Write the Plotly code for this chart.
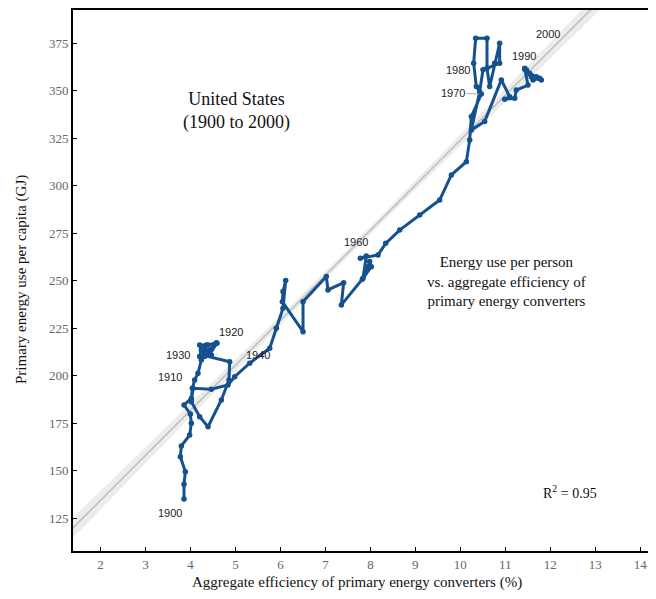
import numpy as np
import plotly.graph_objects as go

years = list(range(1900, 2001))

# aggregate efficiency (%) per year
efficiency = [
    3.858, 3.858, 3.888, 3.777, 3.799, 3.984, 4.021, 3.999, 3.858, 4.021,   # 1900s
    4.044, 4.095, 4.169, 4.243, 4.206, 4.243, 4.206, 4.392, 4.577, 4.392,   # 1910s
    4.592, 4.429, 4.317, 4.354, 4.280, 4.429, 4.317, 4.466, 4.354, 4.466,   # 1920s
    4.243, 4.873, 4.858, 4.688, 4.392, 4.206, 4.021, 4.058, 4.466, 4.836,   # 1930s
    4.984, 5.317, 5.762, 5.910, 6.058, 6.118, 6.058, 6.043, 6.503, 6.503,   # 1940s
    7.021, 7.058, 7.406, 7.355, 7.821, 7.947, 7.984, 8.021, 7.836, 7.910,   # 1950s
    7.777, 8.170, 8.340, 8.651, 9.096, 9.540, 9.800, 10.133, 10.207, 10.244,  # 1960s
    10.466, 10.355, 10.295, 10.340, 10.592, 10.592, 10.651, 10.762, 10.873, 10.873,  # 1970s
    10.503, 10.429, 10.244, 10.540, 10.910, 11.095, 10.984, 11.207, 11.244, 11.503,  # 1980s
    11.429, 11.614, 11.799, 11.688, 11.540, 11.466, 11.614, 11.762, 11.577, 11.503,  # 1990s
    11.429,
]

# primary energy use per capita (GJ)
energy = [
    135.2, 142.9, 149.5, 157.4, 163.1, 168.8, 175.0, 179.9, 184.6, 188.1,
    193.4, 197.8, 201.3, 208.3, 210.1, 213.6, 216.2, 216.2, 217.4, 212.7,
    217.1, 211.8, 214.5, 216.2, 211.8, 213.6, 210.1, 211.0, 212.7, 213.9,
    211.0, 207.4, 197.8, 187.3, 173.2, 178.5, 186.4, 193.4, 192.9, 195.2,
    199.5, 206.6, 214.5, 225.0, 235.5, 250.1, 244.3, 239.0, 223.2, 239.0,
    252.2, 245.2, 249.0, 237.3, 250.8, 257.4, 260.1, 257.4, 251.3, 263.1,
    261.8, 263.6, 269.7, 276.7, 284.6, 292.5, 305.7, 312.7, 324.1, 336.4,
    348.3, 352.2, 364.5, 377.6, 377.6, 361.8, 352.2, 364.5, 375.0, 364.5,
    361.0, 349.5, 329.4, 333.8, 355.7, 346.9, 345.5, 346.0, 350.4, 353.0,
    361.8, 356.6, 355.7, 357.4, 359.2, 361.0, 355.7, 356.6, 357.4, 359.5,
    361.3,
]

# fitted line and its confidence band, as drawn in the chart
fit_intercept = 87.0
fit_slope = 23.7
band_center_x = 7.5
band_min_half = 2.0
band_spread = 0.8

label_years = [1900, 1910, 1920, 1930, 1940, 1960, 1970, 1980, 1990, 2000]
label_dx = [-14, -22, 14, -23, 23, -4, -28, -25, -1, 23]
label_dy = [14, -11, -11, 0, -22, -16, -1, 0, -12, -35]

blue = "#15508f"
serif = "Liberation Serif, Times New Roman, serif"
sans = "Liberation Sans, Arial, sans-serif"

xr = [1.391, 14.17]
yr = [107.8, 392.5]

# page is offset by the body margin (8px); plot area spans page x 73..648, y 10..551
PW, PH = 575, 541


def px(x):
    return (x - 73) / PW


def py(y):
    return (551 - y) / PH


def note(x, y, text, size, **kw):
    fig.add_annotation(
        xref="paper", yref="paper", x=px(x), y=py(y), text=text,
        xanchor="center", yanchor="middle", showarrow=False, align="center",
        font=dict(family=serif, size=size, color="#111111"), **kw)


fx = np.linspace(xr[0] - 0.5, xr[1] + 0.5, 80)
fy = fit_intercept + fit_slope * fx
half = np.sqrt(band_min_half ** 2 + (band_spread * (fx - band_center_x)) ** 2)

fig = go.Figure()

fig.add_trace(go.Scatter(
    x=np.concatenate([fx, fx[::-1]]),
    y=np.concatenate([fy + half, (fy - half)[::-1]]),
    fill="toself", fillcolor="rgba(200,200,200,0.35)",
    line=dict(width=0), hoverinfo="skip", showlegend=False))

fig.add_trace(go.Scatter(
    x=fx, y=fy, mode="lines",
    line=dict(color="#bdbdbd", width=1.5),
    hoverinfo="skip", showlegend=False))

fig.add_trace(go.Scatter(
    x=efficiency, y=energy, mode="lines+markers",
    line=dict(color=blue, width=3),
    marker=dict(color=blue, size=5.5),
    text=years, showlegend=False))

for yr_, dx, dy in zip(label_years, label_dx, label_dy):
    i = years.index(yr_)
    leader = yr_ == 1970
    fig.add_annotation(
        x=efficiency[i], y=energy[i], text=str(yr_),
        showarrow=True, ax=dx, ay=dy,
        arrowhead=0, arrowwidth=0.8,
        arrowcolor="#999999" if leader else "rgba(0,0,0,0)",
        standoff=2,
        font=dict(family=sans, size=11, color="#222222"))

note(236, 111, "United States<br>(1900 to 2000)", 18)
note(506, 281, "Energy use per person<br>vs. aggregate efficiency of<br>primary energy converters", 15)
note(570, 492, "R<sup>2</sup> = 0.95", 14)
note(357, 582, "Aggregate efficiency of primary energy converters (%)", 15)
note(21, 280, "Primary energy use per capita (GJ)", 15, textangle=-90)

fig.update_xaxes(
    range=xr, tickvals=list(range(2, 15)), automargin=False,
    ticks="inside", ticklen=4, tickcolor="#000000",
    showline=True, linecolor="#000000", linewidth=2, mirror=True,
    showgrid=False, zeroline=False,
    tickfont=dict(family=serif, size=13, color="#666666"))

fig.update_yaxes(
    range=yr, tickvals=[125, 150, 175, 200, 225, 250, 275, 300, 325, 350, 375],
    automargin=False,
    ticks="inside", ticklen=4, tickcolor="#000000",
    showline=True, linecolor="#000000", linewidth=2,
    showgrid=False, zeroline=False,
    tickfont=dict(family=serif, size=13, color="#666666"))

fig.update_layout(
    width=640, height=583,
    margin=dict(l=65, r=0, t=2, b=40),
    plot_bgcolor="white", paper_bgcolor="white",
    showlegend=False)

fig.write_html("out.html")
